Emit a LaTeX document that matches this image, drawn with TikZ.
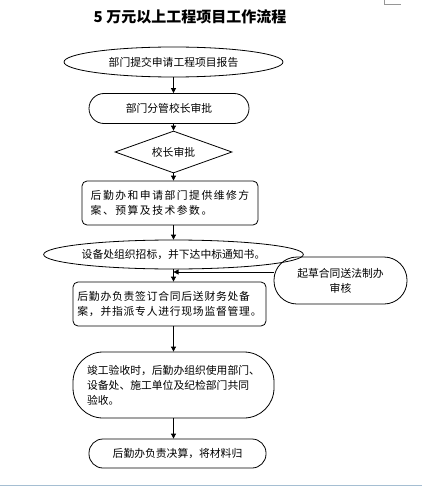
\documentclass[tikz,border=0pt]{standalone}
\usepackage{fontspec}
\setmainfont{Noto Sans CJK SC}
\newfontfamily\widefont{Noto Sans CJK SC}[LetterSpace=14]
\newfontfamily\midfont{Noto Sans CJK SC}[LetterSpace=7]
\usetikzlibrary{shapes.geometric, arrows.meta, positioning}
\definecolor{PageLine}{RGB}{165, 190, 210}
\definecolor{MarkGray}{RGB}{150, 150, 150}
\tikzstyle{startstop} = [ellipse, draw=black, inner sep=0pt, line width=0.8pt, align=center, font=\fontsize{10.8}{15}\selectfont]
\tikzstyle{terminal} = [rectangle, draw=black, inner sep=0pt, line width=0.8pt, align=center, font=\fontsize{10.8}{15}\selectfont]
\tikzstyle{process} = [rectangle, rounded corners=5pt, draw=black, inner sep=0pt, line width=0.8pt, align=left, font=\fontsize{10.8}{15}\selectfont]
\tikzstyle{decision} = [diamond, aspect=2.8, draw=black, inner sep=0pt, line width=0.8pt, font=\fontsize{10.8}{15}\selectfont]
\tikzstyle{arrow} = [-{Triangle[length=5pt, width=5pt]}, line width=0.8pt, black]

\begin{document}
\begin{tikzpicture}[x=1pt, y=-1pt]
\useasboundingbox (0,0) rectangle (422,487);

% Title
\node (title) at (190,17) {\fontsize{15}{18}\selectfont\bfseries 5 万元以上工程项目工作流程};

% Main process boxes
\node (report) [startstop, minimum width=219pt, minimum height=30pt] at (173.5,62) {部门提交申请工程项目报告};
\node (vice) [terminal, rounded corners=15pt, minimum width=160pt, minimum height=30pt] at (169,108.5) {部门分管校长审批};
\node (head) [decision, minimum width=117pt, minimum height=42pt] at (173.5,152) {校长审批};
\node (plan) [process, minimum width=176pt, minimum height=44pt] at (170,203) {\widefont 后勤办和申请部门提供维修方\\\widefont 案、预算及技术参数。};
\node (tender) [startstop, minimum width=219pt, minimum height=29pt] at (173.5,254.5) {设备处组织招标，并下达中标通知书。};
\node (contract) [process, minimum width=193pt, minimum height=44pt] at (169.5,304) {\midfont 后勤办负责签订合同后送财务处备\\\midfont 案，并指派专人进行现场监督管理。};
\node (accept) [terminal, align=left, rounded corners=30pt, minimum width=201pt, minimum height=66pt] at (173.5,385) {竣工验收时，后勤办组织使用部门、\\设备处、施工单位及纪检部门共同\\验收。};
\node (settle) [terminal, rounded corners=14pt, minimum width=177pt, minimum height=29pt] at (177.5,453.5) {后勤办负责决算，将材料归};

% Side branch
\node (draft) [terminal, rounded corners=23pt, minimum width=133pt, minimum height=47pt] at (340.5,280.5) {起草合同送法制办\\审核};
\coordinate (join) at (173.5,272);

% Arrows
\draw [arrow] (report.south) -- (report.south |- vice.north);
\draw [arrow] (report.south |- vice.south) -- (head.north);
\draw [arrow] (head.south) -- (head.south |- plan.north);
\draw [arrow] (head.south |- plan.south) -- (tender.north);
\draw [arrow] (tender.south) -- (tender.south |- contract.north);
\draw [arrow] (tender.south |- contract.south) -- (accept.north);
\draw [arrow] (accept.south) -- (accept.south |- settle.north);
\draw [arrow] (draft.west |- join) -- (join);

% Page marks
\draw [MarkGray, line width=0.6pt] (384,0) -- (384,4) -- (401,4);
\draw [PageLine, line width=1pt] (0,485) -- (422,485);

\end{tikzpicture}
\end{document}
